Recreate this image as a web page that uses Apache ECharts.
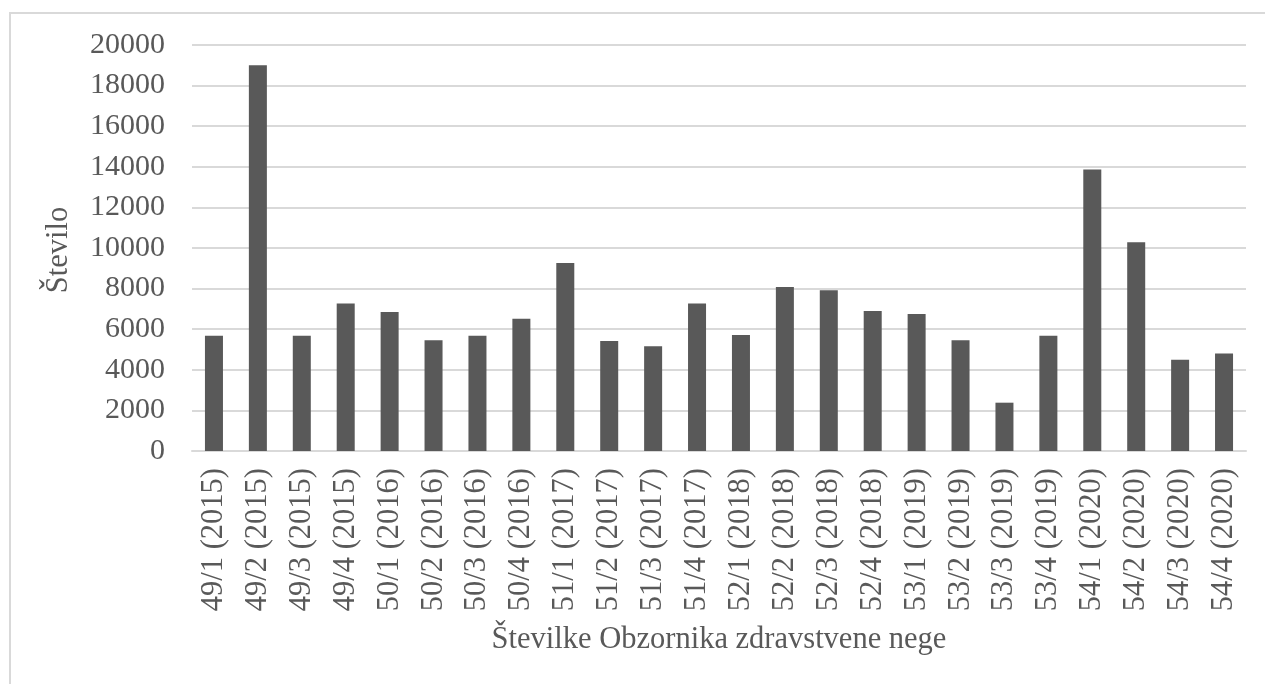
<!DOCTYPE html>
<html>
<head>
<meta charset="utf-8">
<script src="https://cdn.jsdelivr.net/npm/echarts@6/dist/echarts.min.js"></script>
<style>
  html, body { margin: 0; padding: 0; background: #fff; }
  #chart { width: 1265px; height: 684px; }
</style>
</head>
<body>
<div id="chart"></div>
<script>
// številke revije (kategorije) in vrednosti
var issues = ['49/1 (2015)', '49/2 (2015)', '49/3 (2015)', '49/4 (2015)',
              '50/1 (2016)', '50/2 (2016)', '50/3 (2016)', '50/4 (2016)',
              '51/1 (2017)', '51/2 (2017)', '51/3 (2017)', '51/4 (2017)',
              '52/1 (2018)', '52/2 (2018)', '52/3 (2018)', '52/4 (2018)',
              '53/1 (2019)', '53/2 (2019)', '53/3 (2019)', '53/4 (2019)',
              '54/1 (2020)', '54/2 (2020)', '54/3 (2020)', '54/4 (2020)'];
var counts = [5680, 19000, 5680, 7270,
              6850, 5450, 5680, 6520,
              9260, 5420, 5160, 7270,
              5710, 8080, 7920, 6900,
              6750, 5450, 2380, 5680,
              13870, 10280, 4500, 4800];
var yMax = 20000;
var yStep = 2000;

var font = '"Liberation Serif", "DejaVu Serif", serif';
var txt = '#595959';

var myChart = echarts.init(document.getElementById('chart'));
var option = {
    animation: false,
    backgroundColor: '#fff',
    textStyle: { fontFamily: font },
    grid: {
        left: 192,
        right: 19,
        top: 45,
        bottom: 233
    },
    graphic: [
        {
            type: 'rect',
            z: -10,
            shape: { x: 10, y: 13, width: 1300, height: 700 },
            style: { fill: 'none', stroke: '#d9d9d9', lineWidth: 2 }
        },
        {
            type: 'text',
            x: 59,
            y: 250,
            rotation: Math.PI / 2,
            style: {
                text: 'Število',
                fill: txt,
                font: '30.5px ' + font,
                textAlign: 'center',
                textVerticalAlign: 'middle'
            }
        }
    ],
    xAxis: {
        type: 'category',
        data: issues,
        name: 'Številke Obzornika zdravstvene nege',
        nameLocation: 'middle',
        nameGap: 173,
        nameTextStyle: { color: txt, fontSize: 30.5, fontFamily: font },
        axisLine: { lineStyle: { color: '#d9d9d9', width: 2 } },
        axisTick: { show: false },
        axisLabel: {
            rotate: 90,
            interval: 0,
            margin: 17,
            color: txt,
            fontSize: 30.5,
            fontFamily: font
        }
    },
    yAxis: {
        type: 'value',
        min: 0,
        max: yMax,
        interval: yStep,
        axisLine: { show: false },
        axisTick: { show: false },
        axisLabel: {
            margin: 27,
            color: txt,
            fontSize: 30,
            fontFamily: font,
            formatter: function (v) { return String(v); }
        },
        splitLine: { lineStyle: { color: '#d9d9d9', width: 2 } }
    },
    series: [
        {
            type: 'bar',
            data: counts,
            barWidth: '41%',
            itemStyle: { color: '#595959' }
        }
    ]
};
myChart.setOption(option);
</script>
</body>
</html>
